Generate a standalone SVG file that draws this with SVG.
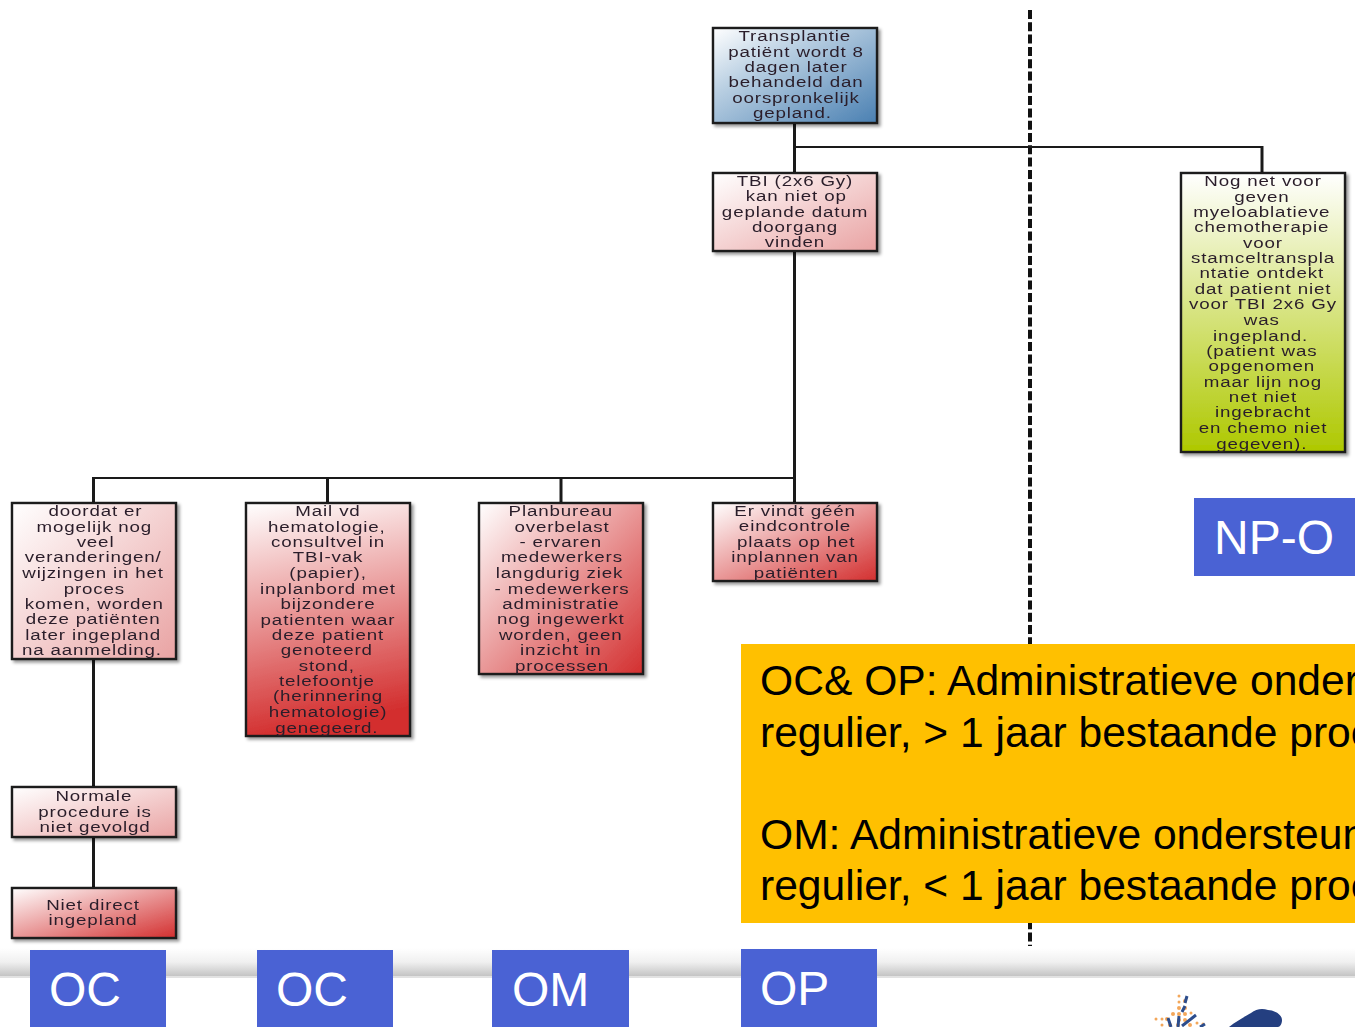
<svg xmlns="http://www.w3.org/2000/svg" width="1355" height="1027" viewBox="0 0 1355 1027">
<style>
.box{stroke:#1a1a1a;stroke-width:2.4;filter:url(#sh)}
.t{font-family:"Liberation Sans",Arial,sans-serif;font-size:15.5px;letter-spacing:.7px;fill:#2a1f2a;text-anchor:middle;filter:url(#soft);transform-box:fill-box;transform-origin:center;transform:scaleX(1.21)}
.c{fill:none;stroke:#1a1a1a;stroke-width:3}
.h{fill:none;stroke:#1a1a1a;stroke-width:2}
.lab{fill:#4a62d4}
.lt{font-family:"Liberation Sans",Arial,sans-serif;font-size:48px;fill:#fff}
.y{font-family:"Liberation Sans",Arial,sans-serif;font-size:42.6px;fill:#000}
</style>
<defs>
<filter id="sh" x="-10%" y="-10%" width="125%" height="125%"><feDropShadow dx="2.5" dy="2.5" stdDeviation="1.8" flood-color="#000" flood-opacity=".4"/></filter>
<filter id="soft" x="-5%" y="-20%" width="110%" height="140%"><feGaussianBlur stdDeviation=".5"/></filter>
<linearGradient id="blue" x1="0" y1="0" x2="1" y2="1"><stop offset="0" stop-color="#fff"/><stop offset=".35" stop-color="#b9cfe2"/><stop offset="1" stop-color="#4a80b2"/></linearGradient>
<linearGradient id="pink" x1="0" y1="0" x2="1" y2="1"><stop offset="0" stop-color="#fff"/><stop offset="1" stop-color="#e9a3a3"/></linearGradient>
<linearGradient id="red" x1="0" y1="0" x2="1" y2="1"><stop offset="0" stop-color="#fff"/><stop offset="1" stop-color="#d32f2f"/></linearGradient>
<linearGradient id="redv" x1="0" y1="0" x2="0.15" y2="1"><stop offset="0" stop-color="#fff"/><stop offset="1" stop-color="#d32f2f"/></linearGradient>
<linearGradient id="green" x1="0" y1="0" x2="0" y2="1"><stop offset="0" stop-color="#fff"/><stop offset="1" stop-color="#aec800"/></linearGradient>
<linearGradient id="band" x1="0" y1="0" x2="0" y2="1"><stop offset="0" stop-color="#fff"/><stop offset=".5" stop-color="#f0f0f0"/><stop offset="1" stop-color="#c4c4c4"/></linearGradient>
</defs>
<rect width="1355" height="1027" fill="#fff"/>
<g id="footer-band"><rect x="0" y="948" width="1355" height="28" fill="url(#band)"/><rect x="0" y="976" width="1355" height="2" fill="#e2e2e2"/></g>
<g id="divider"><line x1="1030" y1="10" x2="1030" y2="946" stroke="#111" stroke-width="4" stroke-dasharray="9 3.3"/></g>
<g id="connectors">
<path class="c" d="M794.500 123V172"/>
<path class="h" d="M794.500 147H1262"/>
<path class="c" d="M1262 146V172"/>
<path class="c" d="M794.500 251V503"/>
<path class="h" d="M92 478H796"/>
<path class="c" d="M93.500 477V503"/>
<path class="c" d="M327.500 478V503"/>
<path class="c" d="M561 478V503"/>
<path class="c" d="M93.500 659V787"/>
<path class="c" d="M93.500 837V888"/>
</g>
<g id="n1"><rect class="box" x="713" y="28" width="164" height="95" fill="url(#blue)"/><text class="t"><tspan x="795" y="41">Transplantie</tspan><tspan x="796" y="57">patiënt wordt 8</tspan><tspan x="796" y="72">dagen later</tspan><tspan x="796" y="87">behandeld dan</tspan><tspan x="796" y="103">oorspronkelijk</tspan><tspan x="793" y="118">gepland.</tspan></text></g>
<g id="n2"><rect class="box" x="713" y="173" width="164" height="78" fill="url(#pink)"/><text class="t"><tspan x="795" y="186">TBI (2x6 Gy)</tspan><tspan x="796" y="201">kan niet op</tspan><tspan x="795" y="217">geplande datum</tspan><tspan x="795" y="232">doorgang</tspan><tspan x="795" y="247">vinden</tspan></text></g>
<g id="n3"><rect class="box" x="1181" y="173" width="164" height="279" fill="url(#green)"/><text class="t"><tspan x="1263" y="186">Nog net voor</tspan><tspan x="1262" y="202">geven</tspan><tspan x="1262" y="217">myeloablatieve</tspan><tspan x="1262" y="232">chemotherapie</tspan><tspan x="1263" y="248">voor</tspan><tspan x="1263" y="263">stamceltranspla</tspan><tspan x="1262" y="278">ntatie ontdekt</tspan><tspan x="1263" y="294">dat patient niet</tspan><tspan x="1263" y="309">voor TBI 2x6 Gy</tspan><tspan x="1262" y="325">was</tspan><tspan x="1261" y="341">ingepland.</tspan><tspan x="1262" y="356">(patient was</tspan><tspan x="1262" y="371">opgenomen</tspan><tspan x="1263" y="387">maar lijn nog</tspan><tspan x="1263" y="402">net niet</tspan><tspan x="1263" y="417">ingebracht</tspan><tspan x="1263" y="433">en chemo niet</tspan><tspan x="1262" y="449">gegeven).</tspan></text></g>
<g id="n4"><rect class="box" x="12" y="503" width="164" height="156" fill="url(#pink)"/><text class="t"><tspan x="95" y="516">doordat er</tspan><tspan x="94" y="532">mogelijk nog</tspan><tspan x="95" y="547">veel</tspan><tspan x="93" y="562">veranderingen/</tspan><tspan x="93" y="578">wijzingen in het</tspan><tspan x="94" y="594">proces</tspan><tspan x="94" y="609">komen, worden</tspan><tspan x="93" y="624">deze patiënten</tspan><tspan x="93" y="640">later ingepland</tspan><tspan x="92" y="655">na aanmelding.</tspan></text></g>
<g id="n5"><rect class="box" x="246" y="503" width="164" height="233" fill="url(#redv)"/><text class="t"><tspan x="328" y="516">Mail vd</tspan><tspan x="327" y="532">hematologie,</tspan><tspan x="328" y="547">consultvel in</tspan><tspan x="328" y="562">TBI-vak</tspan><tspan x="328" y="578">(papier),</tspan><tspan x="328" y="594">inplanbord met</tspan><tspan x="328" y="609">bijzondere</tspan><tspan x="328" y="625">patienten waar</tspan><tspan x="328" y="640">deze patient</tspan><tspan x="327" y="655">genoteerd</tspan><tspan x="327" y="671">stond,</tspan><tspan x="327" y="686">telefoontje</tspan><tspan x="328" y="701">(herinnering</tspan><tspan x="328" y="717">hematologie)</tspan><tspan x="327" y="733">genegeerd.</tspan></text></g>
<g id="n6"><rect class="box" x="479" y="503" width="164" height="171" fill="url(#red)"/><text class="t"><tspan x="561" y="516">Planbureau</tspan><tspan x="562" y="532">overbelast</tspan><tspan x="561" y="547">- ervaren</tspan><tspan x="562" y="562">medewerkers</tspan><tspan x="560" y="578">langdurig ziek</tspan><tspan x="562" y="594">- medewerkers</tspan><tspan x="561" y="609">administratie</tspan><tspan x="561" y="624">nog ingewerkt</tspan><tspan x="561" y="640">worden, geen</tspan><tspan x="561" y="655">inzicht in</tspan><tspan x="562" y="671">processen</tspan></text></g>
<g id="n7"><rect class="box" x="713" y="503" width="164" height="78" fill="url(#red)"/><text class="t"><tspan x="795" y="516">Er vindt géén</tspan><tspan x="795" y="531">eindcontrole</tspan><tspan x="796" y="547">plaats op het</tspan><tspan x="795" y="562">inplannen van</tspan><tspan x="796" y="578">patiënten</tspan></text></g>
<g id="n8"><rect class="box" x="12" y="787" width="164" height="50" fill="url(#pink)"/><text class="t"><tspan x="94" y="801">Normale</tspan><tspan x="95" y="817">procedure is</tspan><tspan x="95" y="832">niet gevolgd</tspan></text></g>
<g id="n9"><rect class="box" x="12" y="888" width="164" height="50" fill="url(#red)"/><text class="t"><tspan x="93" y="910">Niet direct</tspan><tspan x="93" y="925">ingepland</tspan></text></g>
<g id="note"><rect x="741" y="644" width="614" height="279" fill="#ffc000"/><text class="y"><tspan x="760" y="695">OC&amp; OP: Administratieve onder</tspan><tspan x="760" y="747">regulier, &gt; 1 jaar bestaande proc</tspan><tspan x="760" y="849">OM: Administratieve ondersteun</tspan><tspan x="760" y="900">regulier, &lt; 1 jaar bestaande proc</tspan></text></g>
<g id="label-npo"><rect class="lab" x="1194" y="498" width="161" height="78"/><text class="lt" x="1214" y="554">NP-O</text></g>
<g id="label-oc1"><rect class="lab" x="30" y="950" width="136" height="77"/><text class="lt" x="49" y="1006">OC</text></g>
<g id="label-oc2"><rect class="lab" x="257" y="950" width="136" height="77"/><text class="lt" x="276" y="1006">OC</text></g>
<g id="label-om"><rect class="lab" x="492" y="950" width="137" height="77"/><text class="lt" x="512" y="1006">OM</text></g>
<g id="label-op"><rect class="lab" x="741" y="949" width="136" height="78"/><text class="lt" x="760" y="1005">OP</text></g>
<g id="logo">
<g fill="#f08a24" opacity=".75"><circle cx="1179" cy="996" r="1.500"/><circle cx="1185" cy="1001" r="2"/><circle cx="1179" cy="1002" r="1.500"/><circle cx="1179" cy="1008" r="2"/><circle cx="1185" cy="1008" r="2"/><circle cx="1173" cy="1014" r="2"/><circle cx="1179" cy="1014" r="2"/><circle cx="1185" cy="1014" r="2"/><circle cx="1191" cy="1013" r="1.500"/><circle cx="1156" cy="1019" r="1.500"/><circle cx="1162" cy="1019" r="1.500"/><circle cx="1167" cy="1019" r="2"/><circle cx="1179" cy="1020" r="2"/><circle cx="1185" cy="1020" r="2"/><circle cx="1197" cy="1023" r="1.500"/><circle cx="1162" cy="1025" r="1.500"/><circle cx="1170" cy="1025" r="2"/><circle cx="1178" cy="1025" r="2"/><circle cx="1190" cy="1025" r="2"/><circle cx="1203" cy="1024" r="1.500"/></g>
<path d="M1187 996l-2 7M1185 1006l-3 6M1168 1018l3 9M1196 1015l-14 11M1205 1024l-5 3M1179 1016l-1 11" stroke="#2d4d8c" stroke-width="3" fill="none"/>
<path d="M1229 1027C1238 1020 1246 1016 1251 1013C1256 1009 1262 1008 1268 1010C1274 1010 1282 1014 1282 1020C1282 1024 1280 1027 1278 1027Z" fill="#243f80"/>
</g>
</svg>
